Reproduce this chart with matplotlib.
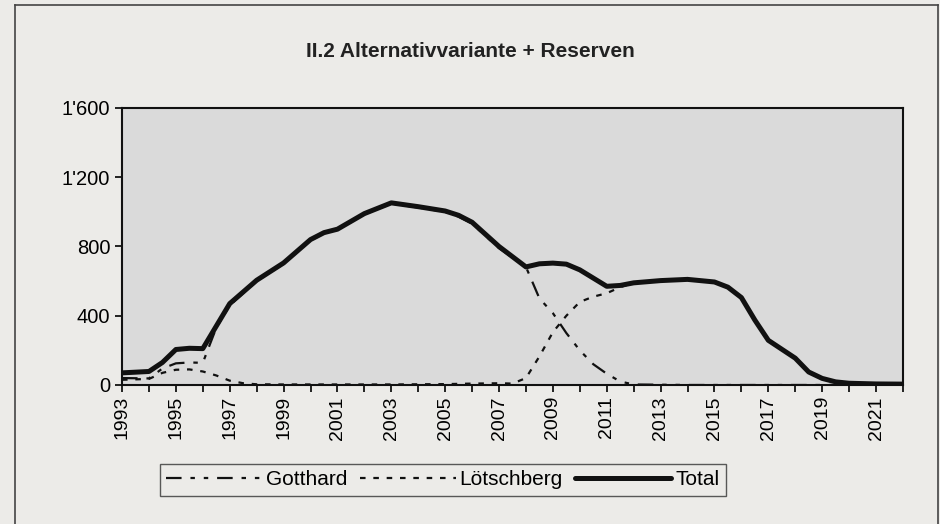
import matplotlib
matplotlib.use("Agg")
import matplotlib.pyplot as plt
from matplotlib.lines import Line2D
from matplotlib.ticker import FuncFormatter

plt.rcParams['font.family'] = ['Liberation Sans', 'DejaVu Sans']
narrow = ['Liberation Sans Narrow', 'Liberation Sans', 'DejaVu Sans']

# values
total_x = [1993, 1994, 1994.5, 1995, 1995.5, 1996, 1996.5, 1997, 1998, 1999,
           2000, 2000.5, 2001, 2002, 2003, 2004, 2005, 2005.5, 2006, 2007,
           2008, 2008.5, 2009, 2009.5, 2010, 2011, 2011.5, 2012, 2013, 2014,
           2015, 2015.5, 2016, 2016.5, 2017, 2018, 2018.5, 2019, 2019.5, 2020,
           2021, 2022]
total_y = [70, 78, 130, 205, 212, 210, 340, 470, 605, 705,
           840, 880, 900, 990, 1052, 1030, 1005, 980, 940, 800,
           682, 700, 704, 698, 665, 570, 575, 590, 603, 610,
           595, 565, 505, 375, 258, 155, 75, 38, 18, 10,
           6, 5]

gott_x = [1993, 1994, 1994.5, 1995, 1995.5, 1996, 1996.5, 1997, 1998, 1999,
          2000, 2000.5, 2001, 2002, 2003, 2004, 2005, 2005.5, 2006, 2007,
          2008, 2008.5, 2009, 2009.5, 2010, 2010.5, 2011, 2011.5, 2012, 2014,
          2016, 2018, 2020, 2022]
gott_y = [40, 38, 95, 125, 130, 128, 330, 460, 600, 700,
          835, 876, 896, 986, 1048, 1025, 1000, 972, 932, 790,
          682, 500, 415, 300, 200, 120, 65, 20, 3, 0,
          0, 0, 0, 0]

loet_x = [1993, 1994, 1994.5, 1995, 1995.5, 1996, 1996.5, 1997, 1997.5, 1998,
          1999, 2000, 2001, 2002, 2003, 2004, 2005, 2006, 2007, 2007.5,
          2008, 2008.5, 2009, 2009.5, 2010, 2010.5, 2011, 2011.5, 2012, 2013,
          2014, 2015, 2015.5, 2016, 2016.5, 2017, 2018, 2018.5, 2019, 2019.5,
          2020, 2021, 2022]
loet_y = [30, 35, 70, 88, 90, 78, 55, 25, 10, 4,
          3, 3, 3, 3, 3, 4, 5, 8, 10, 8,
          40, 165, 305, 400, 480, 510, 530, 565, 590, 603,
          610, 595, 565, 505, 375, 258, 155, 75, 38, 18,
          10, 6, 5]

fig = plt.figure(figsize=(9.4, 5.24), dpi=100, facecolor='#ecebe8')
ax = fig.add_axes([0.1298, 0.2653, 0.8308, 0.5286])
ax.set_facecolor('#dadada')

ax.plot(gott_x, gott_y, color='#111111', lw=1.6,
        linestyle=(0, (7, 4, 2, 4, 2, 4)), label='Gotthard')
ax.plot(loet_x, loet_y, color='#111111', lw=1.6,
        linestyle=(0, (2.5, 3.5)), label='Lötschberg')
ax.plot(total_x, total_y, color='#111111', lw=3.6,
        solid_capstyle='round', label='Total')

ax.set_xlim(1993, 2022)
ax.set_ylim(0, 1600)
ax.set_yticks([0, 400, 800, 1200, 1600])
ax.yaxis.set_major_formatter(FuncFormatter(lambda v, p: f"{int(v):,}".replace(',', "'")))
ax.set_xticks(range(1993, 2022, 2))
ax.set_xticks(range(1993, 2023), minor=True)
ax.tick_params(axis='x', which='both', direction='out', length=5, width=1.2,
               labelrotation=90, labelsize=14, pad=3)
ax.tick_params(axis='y', direction='out', length=5, width=1.2, labelsize=14.5)
for s in ax.spines.values():
    s.set_linewidth(1.5)
    s.set_color('#111111')

fig.suptitle('II.2 Alternativvariante + Reserven', y=0.92, fontsize=15,
             fontweight='bold', color='#222222', family=narrow)

leg = fig.legend(loc='center', bbox_to_anchor=(0.471, 0.084), ncol=3,
                 prop={'family': narrow, 'size': 15}, frameon=True, fancybox=False,
                 handlelength=4.6, handletextpad=0.2, columnspacing=0.6,
                 borderpad=0.3, borderaxespad=0)
leg.get_frame().set_edgecolor('#333333')
leg.get_frame().set_facecolor('#ecebe8')
leg.get_frame().set_linewidth(1.0)

# outer chart frame
fig.add_artist(Line2D([15 / 940, 15 / 940], [0, 1 - 5 / 524], transform=fig.transFigure,
                      color='#444444', lw=1.2))
fig.add_artist(Line2D([15 / 940, 938 / 940], [1 - 5 / 524, 1 - 5 / 524],
                      transform=fig.transFigure, color='#444444', lw=1.2))
fig.add_artist(Line2D([938 / 940, 938 / 940], [0, 1 - 5 / 524], transform=fig.transFigure,
                      color='#444444', lw=1.2))

fig.savefig('out.png', dpi=100, facecolor=fig.get_facecolor())
